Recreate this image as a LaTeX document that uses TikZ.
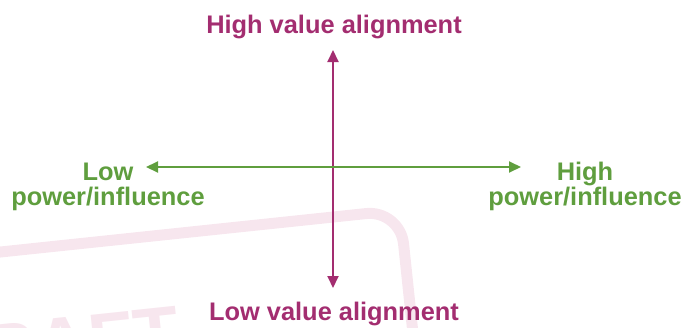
\documentclass[tikz,border=0pt]{standalone}
\usepackage{fontspec}
\setmainfont{Liberation Sans}
\usetikzlibrary{arrows.meta}
\definecolor{valcol}{RGB}{163,45,112}
\definecolor{powcol}{RGB}{95,158,62}
\definecolor{stampcol}{RGB}{247,230,238}

\begin{document}
\begin{tikzpicture}[x=0.5pt,y=-0.5pt,
    lbl/.style={font=\bfseries\fontsize{12.7}{12.5}\selectfont, inner sep=0pt, align=center},
    axisline/.style={line width=1pt, {Triangle[length=6pt,width=5.5pt]}-{Triangle[length=6pt,width=5.5pt]}}]
  \useasboundingbox (0,0) rectangle (686,327);
  \clip (0,0) rectangle (686,327);
  % faint stamp behind the axes
  \begin{scope}[shift={(400,210)}, rotate=6]
    \draw[stampcol, line width=5.5pt, rounded corners=17pt] (-700,0) -- (0,0) -- (0,300);
    \node[stampcol, anchor=north east, inner sep=0pt, transform shape,
      font=\bfseries\fontsize{37}{37}\selectfont] (stamp) at (-232,72) {DRAFT};
  \end{scope}
  % axis ends
  \coordinate (vtop) at (333,50);
  \coordinate (vbot) at (333,288);
  \coordinate (hleft) at (146,167);
  \coordinate (hright) at (521,167);
  \draw[axisline, valcol] (vtop) -- (vbot);
  \draw[axisline, powcol] (hleft) -- (hright);
  % labels
  \node[lbl, valcol, anchor=base] (hival) at (334,33) {High value alignment};
  \node[lbl, valcol, anchor=base] (loval) at (334,320) {Low value alignment};
  \node[lbl, powcol, anchor=base] (lopow) at (108,205) {Low\\power/influence};
  \node[lbl, powcol, anchor=base] (hipow) at (585,205) {High\\power/influence};
\end{tikzpicture}
\end{document}
